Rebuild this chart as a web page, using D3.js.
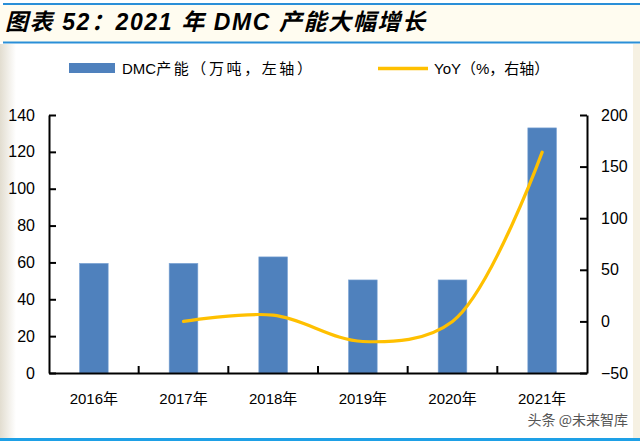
<!DOCTYPE html>
<html><head><meta charset="utf-8">
<script src="https://cdn.jsdelivr.net/npm/d3@7"></script>
<style>body{margin:0;background:#fff;}svg{display:block;}</style>
</head><body>
<svg id="c" width="640" height="441"></svg>
<script>
const categories = ["2016年","2017年","2018年","2019年","2020年","2021年"];
const capacity = [59.5, 59.5, 63, 50.5, 50.5, 133];
const yoy = [null, 0, 6, -19.5, 0, 164];
const leftTicks = [0,20,40,60,80,100,120,140];
const rightTicks = [-50,0,50,100,150,200];

const svg = d3.select("#c");
const W=640,H=441;
const defs = svg.append("defs");
const lg = defs.append("linearGradient").attr("id","lg").attr("x1","0").attr("x2","1");
lg.append("stop").attr("offset","0").attr("stop-color","#e2ddd0");
lg.append("stop").attr("offset","1").attr("stop-color","#ffffff");
svg.append("rect").attr("x",0).attr("y",0).attr("width",W).attr("height",H).attr("fill","#fff");
svg.append("rect").attr("x",0).attr("y",44).attr("width",16).attr("height",394).attr("fill","url(#lg)");
svg.append("rect").attr("x",633).attr("y",44).attr("width",7).attr("height",394).attr("fill","#f6f1e3");
svg.append("rect").attr("x",0).attr("y",5).attr("width",W).attr("height",37).attr("fill","#fffcf0");
svg.append("rect").attr("x",3).attr("y",3).attr("width",W-3).attr("height",2).attr("fill","#2a8fd8");
svg.append("rect").attr("x",3).attr("y",41.5).attr("width",W-3).attr("height",2).attr("fill","#2a8fd8");
svg.append("rect").attr("x",0).attr("y",438).attr("width",W).attr("height",3).attr("fill","#1ea0e6");

svg.append("text").attr("x",5).attr("y",30)
  .attr("font-family","'Liberation Sans','Noto Sans CJK SC',sans-serif")
  .attr("font-size",23).attr("font-weight","bold").attr("font-style","italic")
  .attr("letter-spacing",1.6)
  .attr("fill","#000").text("图表 52：2021 年 DMC 产能大幅增长");

const x0=49,x1=587,yTop=115,yBot=373;
const x = d3.scaleBand().domain(categories).range([x0,x1]).paddingInner(0.68).paddingOuter(0.34);
const xb = d3.scaleBand().domain(categories).range([x0,x1]);
const yL = d3.scaleLinear().domain([0,140]).range([yBot,yTop]);
const yR = d3.scaleLinear().domain([-50,200]).range([yBot,yTop]);

const font="'Liberation Sans',Arial,'Noto Sans CJK SC',sans-serif";

svg.append("g").selectAll("rect").data(capacity).join("rect")
  .attr("x",(d,i)=>x(categories[i])).attr("width",x.bandwidth())
  .attr("y",d=>yL(d)).attr("height",d=>yBot-yL(d))
  .attr("fill","#4f81bd").attr("stroke","#7ea6d6").attr("stroke-width",0.6);

const pts = yoy.map((v,i)=>({v,i})).filter(d=>d.v!==null);
const line = d3.line().x(d=>xb(categories[d.i])+xb.bandwidth()/2).y(d=>yR(d.v)).curve(d3.curveCatmullRom.alpha(0.5));
svg.append("path").attr("d",line(pts)).attr("fill","none").attr("stroke","#ffc000").attr("stroke-width",3.2).attr("stroke-linecap","round");

const axL = d3.axisLeft(yL).tickValues(leftTicks).tickSizeInner(-7).tickSizeOuter(0).tickPadding(14);
const gL = svg.append("g").attr("transform",`translate(${x0},0)`).call(axL);
const axR = d3.axisRight(yR).tickValues(rightTicks).tickSizeInner(-7).tickSizeOuter(0).tickPadding(14);
const gR = svg.append("g").attr("transform",`translate(${x1},0)`).call(axR);
const axB = d3.axisBottom(xb).tickSize(0).tickPadding(20);
const gB = svg.append("g").attr("transform",`translate(0,${yBot})`).call(axB);
[gL,gR,gB].forEach(g=>{
  g.select(".domain").attr("stroke","#000").attr("stroke-width",2);
  g.selectAll(".tick line").attr("stroke","#000").attr("stroke-width",2);
  g.selectAll("text").attr("font-family",font).attr("fill","#000");
});
gL.selectAll("text").attr("font-size",16);
gR.selectAll("text").attr("font-size",16);
gB.selectAll("text").attr("font-size",15);
svg.append("g").selectAll("line").data(categories.slice(1)).join("line")
  .attr("x1",d=>xb(d)).attr("x2",d=>xb(d)).attr("y1",yBot).attr("y2",yBot-7)
  .attr("stroke","#000").attr("stroke-width",2);

const lgG = svg.append("g").attr("font-family",font).attr("font-size",15).attr("fill","#000");
lgG.append("rect").attr("x",69).attr("y",63).attr("width",46).attr("height",10).attr("fill","#4f81bd");
const t1 = lgG.append("text").attr("x",122).attr("y",74);
t1.append("tspan").text("DMC");
t1.append("tspan").attr("letter-spacing",2.6).text("产能（万吨，左轴）");
lgG.append("line").attr("x1",378).attr("x2",428).attr("y1",68.5).attr("y2",68.5).attr("stroke","#ffc000").attr("stroke-width",3.5);
lgG.append("text").attr("x",434).attr("y",74).text("YoY（%，右轴）");

svg.append("text").attr("x",628).attr("y",425).attr("text-anchor","end")
  .attr("font-family","'Noto Sans CJK SC',sans-serif").attr("font-size",14).attr("fill","#555")
  .text("头条 @未来智库");
</script>
</body></html>
